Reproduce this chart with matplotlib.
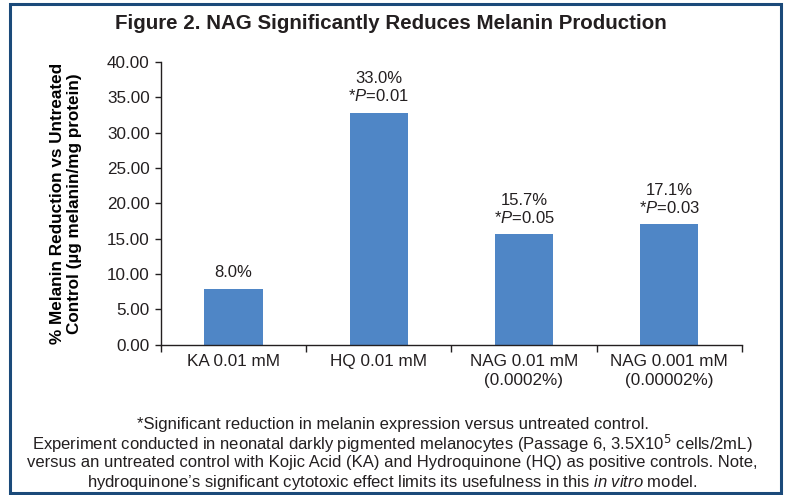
import matplotlib
matplotlib.use("Agg")
import matplotlib.pyplot as plt
from matplotlib.patches import Rectangle

plt.rcParams.update({
    "font.family": ["Liberation Sans", "DejaVu Sans"],
    "mathtext.fontset": "custom",
    "mathtext.rm": "Liberation Sans",
    "mathtext.it": "Liberation Sans:italic",
    "mathtext.bf": "Liberation Sans:bold",
    "text.color": "#231f20",
    "axes.edgecolor": "#231f20",
    "xtick.color": "#231f20",
    "ytick.color": "#231f20",
})

# ---- data ----
categories = ["KA 0.01 mM", "HQ 0.01 mM", "NAG 0.01 mM\n(0.0002%)", "NAG 0.001 mM\n(0.00002%)"]
reduction = [7.9, 32.8, 15.6, 17.0]
bar_labels = ["8.0%", "33.0%\n*$\\mathit{P}$=0.01", "15.7%\n*$\\mathit{P}$=0.05", "17.1%\n*$\\mathit{P}$=0.03"]
yticks = [0, 5, 10, 15, 20, 25, 30, 35, 40]

BAR = "#4f86c6"
FRAME = "#1b4a7a"

fig = plt.figure(figsize=(7.85, 4.95), dpi=100)
ax = fig.add_axes([0.205, 0.304, 0.740, 0.571])

x = range(len(categories))
bars = ax.bar(x, reduction, width=0.40, color=BAR, zorder=2)
for b, lab in zip(bars, bar_labels):
    ax.annotate(lab, xy=(b.get_x() + b.get_width() / 2, b.get_height()),
                xytext=(0, 6), textcoords="offset points",
                ha="center", va="bottom", fontsize=12, linespacing=1.15)

ax.set_xlim(-0.5, len(categories) - 0.5)
ax.set_ylim(0, 40)
ax.set_yticks(yticks)
ax.set_yticklabels([f"{v:.2f}" for v in yticks], fontsize=12.3)
ax.set_xticks(list(x))
ax.set_xticklabels(categories, fontsize=12.3, linespacing=1.3)
ax.set_xticks([i - 0.5 for i in range(len(categories) + 1)], minor=True)
ax.tick_params(axis="x", which="major", length=0, pad=7)
ax.tick_params(axis="x", which="minor", length=5, width=1, direction="out")
ax.tick_params(axis="y", length=4, width=1, direction="out", pad=4)
for s in ("top", "right"):
    ax.spines[s].set_visible(False)
for s in ("left", "bottom"):
    ax.spines[s].set_linewidth(1.0)

ax.set_ylabel("% Melanin Reduction vs Untreated\nControl (µg melanin/mg protein)",
              fontsize=12.3, fontweight="bold", linespacing=1.15, labelpad=18)

fig.text(0.498, 0.953, "Figure 2. NAG Significantly Reduces Melanin Production",
         ha="center", va="center", fontsize=14.8, fontweight="bold")

notes = [
    "*Significant reduction in melanin expression versus untreated control.",
    "Experiment conducted in neonatal darkly pigmented melanocytes (Passage 6, 3.5X10$^{\\mathsf{5}}$ cells/2mL)",
    "versus an untreated control with Kojic Acid (KA) and Hydroquinone (HQ) as positive controls. Note,",
    "hydroquinone\u2019s significant cytotoxic effect limits its usefulness in this $\\mathit{in\\ vitro}$ model.",
]
for i, line in enumerate(notes):
    fig.text(0.5, 1 - (424 + 19.5 * i) / 495, line, ha="center", va="center", fontsize=12)

fig.patches.append(Rectangle((10 / 785, 1 - 493 / 495), 771 / 785, 489 / 495,
                             transform=fig.transFigure, fill=False,
                             edgecolor=FRAME, linewidth=2.2))

fig.savefig("out.png", dpi=100)
